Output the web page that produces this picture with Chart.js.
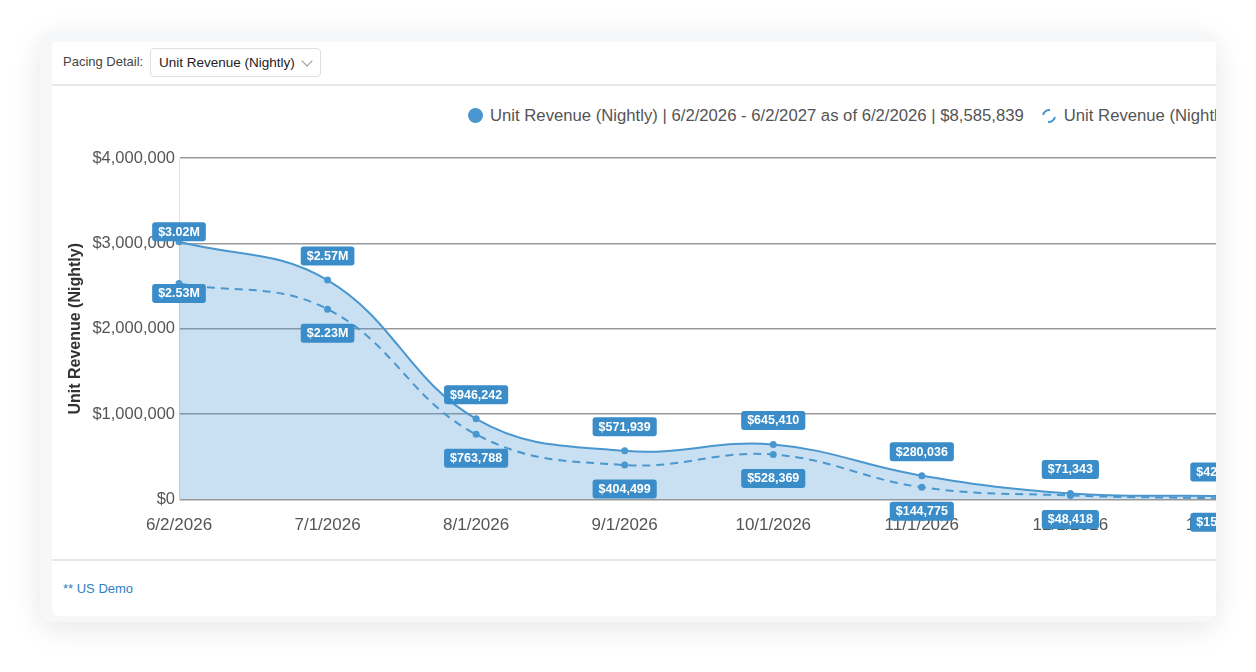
<!DOCTYPE html>
<html>
<head>
  <meta charset="UTF-8" />
  <title>Pacing Detail - Unit Revenue (Nightly)</title>
  <style>
    body { margin: 0; background: #fff; font-family: "Liberation Sans", Arial, sans-serif; }
    .outer { position: absolute; left: 40px; top: 33px; width: 1176px; height: 589px; background: #f6f7f9; border-radius: 12px; box-shadow: 0 6px 30px rgba(0,0,0,0.10); }
    .panel { position: absolute; left: 52px; top: 42px; width: 1164px; height: 574px; background: #fff; overflow: hidden; border-radius: 4px 0 0 6px; }
    .pace-label { position: absolute; left: 11px; top: 12px; font-size: 13px; color: #444; }
    .select { position: absolute; left: 98px; top: 6px; width: 161px; height: 27px; border: 1px solid #dcdfe3; border-radius: 4px; font-size: 13.5px; color: #222; line-height: 27px; padding-left: 8px; box-sizing: content-box; }
    .select .chev { position: absolute; right: 9px; top: 8px; width: 7px; height: 7px; border-right: 1px solid #999; border-bottom: 1px solid #999; transform: rotate(45deg); }
    .divider { position: absolute; left: 0; width: 100%; height: 2px; background: #e6e8eb; }
    .legend { position: absolute; left: 416px; top: 63px; white-space: nowrap; font-size: 16.7px; color: #555; }
    .legend span { display: inline-block; vertical-align: middle; }
    .dot { width: 15px; height: 15px; border-radius: 50%; background: #4a97cf; margin-right: 7px; }
    .ring { width: 10px; height: 10px; border-radius: 50%; border: 2px solid #4a97cf; border-right-color: transparent; border-left-color: transparent; transform: rotate(-35deg); margin: 0 8px 0 18px; }
    .chart-box { position: absolute; left: 0; top: 45px; width: 1216px; height: 477px; }
    .foot { position: absolute; left: 11px; top: 539px; font-size: 13px; color: #2f7fc0; }
  </style>
</head>
<body>
  <div class="outer"></div>
  <div class="panel">
    <div class="pace-label">Pacing Detail:</div>
    <div class="select">Unit Revenue (Nightly)<span class="chev"></span></div>
    <div class="divider" style="top: 42px;"></div>
    <div class="legend">
      <span class="dot"></span><span>Unit Revenue (Nightly) | 6/2/2026 - 6/2/2027 as of 6/2/2026 | $8,585,839</span><span class="ring"></span><span>Unit Revenue (Nightly)</span>
    </div>
    <div class="chart-box"><canvas id="paceChart"></canvas></div>
    <div class="divider" style="top: 517px;"></div>
    <div class="foot">** US Demo</div>
  </div>

  <script src="https://cdn.jsdelivr.net/npm/chart.js"></script>
  <script>
    const dates = ['6/2/2026', '7/1/2026', '8/1/2026', '9/1/2026', '10/1/2026', '11/1/2026', '12/1/2026', '1/1/2027'];
    const currentRevenue = [3020000, 2570000, 946242, 571939, 645410, 280036, 71343, 42000];
    const priorRevenue = [2530000, 2230000, 763788, 404499, 528369, 144775, 48418, 15000];
    const yTicks = [0, 1000000, 2000000, 3000000, 4000000];

    const blue = '#4a97cf';
    const tagBlue = '#3a8dc8';

    function money(v) {
      if (v >= 1000000) return '$' + (v / 1000000).toFixed(2) + 'M';
      return '$' + v.toLocaleString('en-US');
    }

    // boxed value tags: current series above the points, prior series below
    const valueTags = {
      id: 'valueTags',
      afterDatasetsDraw(chart) {
        const ctx = chart.ctx;
        ctx.save();
        ctx.font = 'bold 12.5px "Liberation Sans", Arial, sans-serif';
        ctx.textAlign = 'center';
        ctx.textBaseline = 'middle';
        chart.data.datasets.forEach((ds, i) => {
          const meta = chart.getDatasetMeta(i);
          meta.data.forEach((pt, j) => {
            const v = ds.data[j];
            if (v == null) return;
            const txt = money(v);
            const w = ctx.measureText(txt).width + 12;
            const h = 19;
            const off = j === 0 ? 10 : 24;
            const cy = i === 0 ? pt.y - off : pt.y + off;
            ctx.fillStyle = tagBlue;
            ctx.beginPath();
            ctx.roundRect(pt.x - w / 2, cy - h / 2, w, h, 3);
            ctx.fill();
            ctx.fillStyle = '#fff';
            ctx.fillText(txt, pt.x, cy + 0.5);
          });
        });
        ctx.restore();
      }
    };

    Chart.defaults.font.family = '"Liberation Sans", Arial, sans-serif';

    new Chart(document.getElementById('paceChart'), {
      type: 'line',
      data: {
        labels: dates,
        datasets: [{
          label: 'Unit Revenue (Nightly) | 6/2/2026 - 6/2/2027 as of 6/2/2026 | $8,585,839',
          data: currentRevenue,
          borderColor: blue,
          backgroundColor: 'rgba(74,151,207,0.30)',
          borderWidth: 2,
          fill: 'origin',
          tension: 0.4,
          pointRadius: 3.5,
          pointBackgroundColor: blue,
          pointBorderWidth: 0,
          order: 1
        }, {
          label: 'Unit Revenue (Nightly)',
          data: priorRevenue,
          borderColor: blue,
          borderWidth: 2,
          borderDash: [8, 6],
          fill: false,
          tension: 0.4,
          pointRadius: 3.5,
          pointBackgroundColor: blue,
          pointBorderWidth: 0,
          order: 0
        }]
      },
      options: {
        responsive: true,
        maintainAspectRatio: false,
        animation: false,
        layout: { padding: { top: 71, right: 0, bottom: 12, left: 0 } },
        plugins: {
          legend: { display: false },
          tooltip: { enabled: false }
        },
        scales: {
          x: {
            grid: { display: false, drawTicks: false },
            border: { display: false },
            ticks: { color: '#555', font: { size: 17 }, padding: 16, maxRotation: 0, autoSkip: false }
          },
          y: {
            min: 0,
            max: 4000000,
            afterFit: s => { s.width = 127; },
            afterBuildTicks: s => { s.ticks = yTicks.map(v => ({ value: v })); },
            grid: { color: '#999', lineWidth: 1.6, drawTicks: false },
            border: { display: true, color: '#e2e2e2', width: 1 },
            ticks: { color: '#555', font: { size: 16.5 }, padding: 4, callback: v => '$' + v.toLocaleString('en-US') },
            title: { display: true, text: 'Unit Revenue (Nightly)', color: '#333', font: { size: 16, weight: 'bold' }, padding: { top: 14, bottom: 0 } }
          }
        }
      },
      plugins: [valueTags]
    });
  </script>
</body>
</html>
